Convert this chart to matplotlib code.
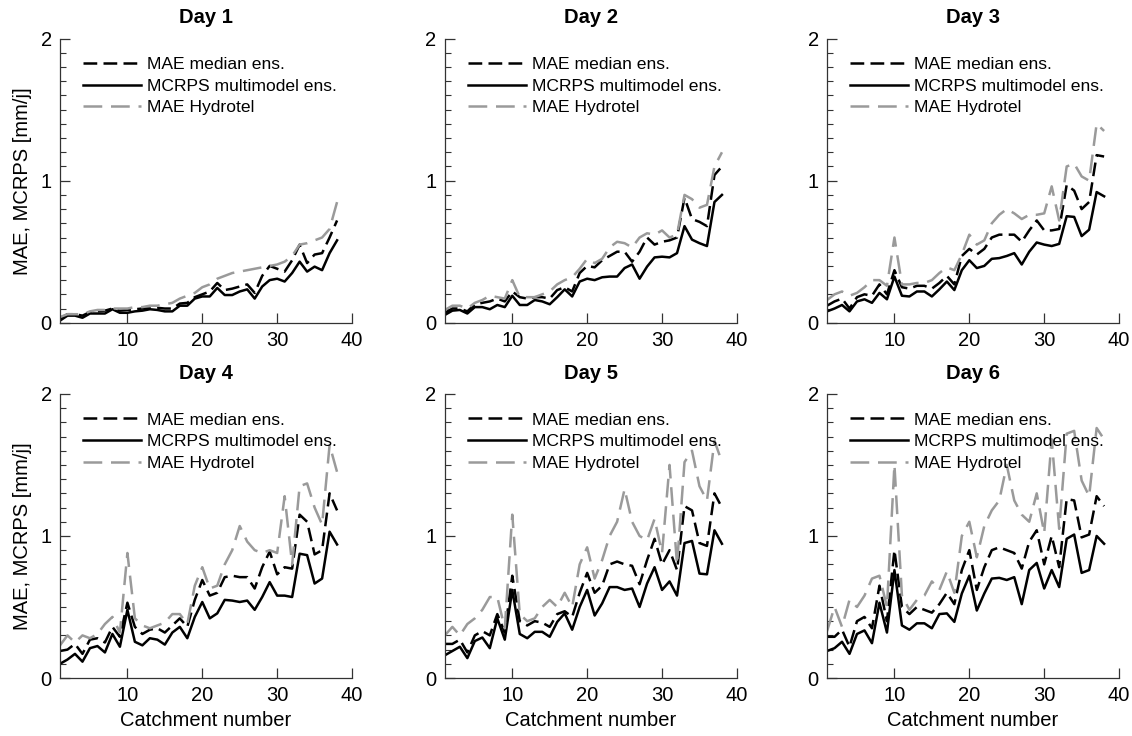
import numpy as np
import matplotlib.pyplot as plt
from matplotlib.ticker import MultipleLocator

plt.rcParams['font.family'] = ['Liberation Sans', 'DejaVu Sans']

catchments = list(range(1, 39))

# Day 1
med_d1 = [0.03, 0.06, 0.06, 0.05, 0.075, 0.08, 0.085, 0.10, 0.085, 0.09, 0.095, 0.10, 0.10, 0.105, 0.10, 0.10, 0.135, 0.14, 0.18,
          0.20, 0.22, 0.28, 0.23, 0.24, 0.255, 0.27, 0.21, 0.33, 0.40, 0.38, 0.36, 0.44, 0.55, 0.42, 0.48, 0.49, 0.60, 0.72]
crps_d1 = [0.015, 0.05, 0.05, 0.035, 0.065, 0.065, 0.065, 0.095, 0.07, 0.07, 0.08, 0.085, 0.095, 0.09, 0.08, 0.08, 0.12, 0.12, 0.17,
           0.185, 0.185, 0.245, 0.195, 0.195, 0.22, 0.235, 0.17, 0.255, 0.30, 0.31, 0.29, 0.35, 0.43, 0.36, 0.395, 0.37, 0.49, 0.58]
hyd_d1 = [0.04, 0.06, 0.06, 0.06, 0.08, 0.09, 0.09, 0.10, 0.10, 0.10, 0.11, 0.11, 0.12, 0.12, 0.13, 0.14, 0.17, 0.19, 0.21,
          0.25, 0.27, 0.31, 0.33, 0.35, 0.36, 0.37, 0.38, 0.39, 0.40, 0.41, 0.43, 0.47, 0.55, 0.56, 0.58, 0.60, 0.66, 0.85]

# Day 2
med_d2 = [0.07, 0.10, 0.10, 0.08, 0.13, 0.14, 0.15, 0.17, 0.15, 0.22, 0.18, 0.17, 0.18, 0.18, 0.17, 0.23, 0.25, 0.22, 0.35,
          0.40, 0.39, 0.44, 0.47, 0.50, 0.50, 0.43, 0.50, 0.60, 0.55, 0.57, 0.58, 0.60, 0.88, 0.73, 0.71, 0.68, 1.04, 1.10]
crps_d2 = [0.055, 0.085, 0.09, 0.065, 0.11, 0.11, 0.095, 0.125, 0.11, 0.19, 0.125, 0.125, 0.16, 0.15, 0.13, 0.18, 0.235, 0.185, 0.29,
           0.31, 0.30, 0.32, 0.325, 0.325, 0.385, 0.41, 0.31, 0.395, 0.46, 0.465, 0.46, 0.49, 0.68, 0.585, 0.56, 0.54, 0.85, 0.90]
hyd_d2 = [0.09, 0.12, 0.12, 0.10, 0.14, 0.16, 0.19, 0.18, 0.17, 0.30, 0.18, 0.18, 0.18, 0.20, 0.22, 0.27, 0.30, 0.32, 0.38,
          0.45, 0.42, 0.45, 0.53, 0.57, 0.56, 0.53, 0.60, 0.63, 0.62, 0.65, 0.60, 0.62, 0.90, 0.87, 0.81, 0.83, 1.10, 1.20]

# Day 3
med_d3 = [0.12, 0.15, 0.17, 0.10, 0.18, 0.20, 0.19, 0.27, 0.20, 0.37, 0.25, 0.24, 0.26, 0.26, 0.24, 0.28, 0.33, 0.27, 0.47,
          0.52, 0.48, 0.52, 0.60, 0.62, 0.62, 0.62, 0.57, 0.65, 0.72, 0.65, 0.65, 0.66, 0.97, 0.93, 0.80, 0.85, 1.18, 1.17]
crps_d3 = [0.08, 0.10, 0.125, 0.08, 0.15, 0.165, 0.14, 0.21, 0.165, 0.325, 0.19, 0.185, 0.22, 0.22, 0.185, 0.235, 0.29, 0.23, 0.37,
           0.44, 0.385, 0.40, 0.45, 0.455, 0.47, 0.49, 0.41, 0.50, 0.565, 0.55, 0.54, 0.555, 0.75, 0.745, 0.61, 0.655, 0.92, 0.89]
hyd_d3 = [0.16, 0.20, 0.22, 0.19, 0.21, 0.25, 0.30, 0.30, 0.26, 0.60, 0.27, 0.27, 0.28, 0.28, 0.30, 0.35, 0.39, 0.37, 0.48,
          0.62, 0.55, 0.58, 0.70, 0.76, 0.80, 0.77, 0.73, 0.76, 0.76, 0.77, 0.96, 0.72, 1.10, 1.12, 1.03, 1.00, 1.40, 1.35]

# Day 4
med_d4 = [0.19, 0.20, 0.24, 0.17, 0.27, 0.28, 0.25, 0.36, 0.29, 0.53, 0.36, 0.31, 0.34, 0.35, 0.32, 0.37, 0.42, 0.36, 0.55,
          0.69, 0.58, 0.60, 0.71, 0.72, 0.71, 0.71, 0.63, 0.78, 0.89, 0.73, 0.78, 0.77, 1.15, 1.10, 0.87, 0.90, 1.30, 1.18]
crps_d4 = [0.10, 0.13, 0.17, 0.115, 0.21, 0.225, 0.18, 0.31, 0.22, 0.48, 0.255, 0.23, 0.28, 0.27, 0.235, 0.32, 0.36, 0.28, 0.43,
           0.535, 0.42, 0.455, 0.55, 0.545, 0.535, 0.545, 0.48, 0.57, 0.675, 0.58, 0.58, 0.57, 0.875, 0.865, 0.665, 0.70, 1.03, 0.94]
hyd_d4 = [0.23, 0.30, 0.25, 0.30, 0.28, 0.31, 0.38, 0.43, 0.32, 0.88, 0.42, 0.37, 0.35, 0.37, 0.39, 0.45, 0.45, 0.38, 0.65,
          0.78, 0.63, 0.65, 0.80, 0.90, 1.07, 0.96, 0.90, 0.88, 0.90, 0.88, 1.28, 0.80, 1.35, 1.37, 1.20, 1.08, 1.64, 1.45]

# Day 5
med_d5 = [0.24, 0.24, 0.27, 0.18, 0.30, 0.33, 0.30, 0.45, 0.32, 0.72, 0.40, 0.37, 0.40, 0.39, 0.36, 0.45, 0.47, 0.43, 0.60,
          0.74, 0.60, 0.65, 0.80, 0.82, 0.80, 0.79, 0.66, 0.83, 0.98, 0.80, 0.90, 0.76, 1.21, 1.18, 0.95, 0.93, 1.30, 1.20]
crps_d5 = [0.16, 0.19, 0.22, 0.14, 0.26, 0.285, 0.21, 0.42, 0.27, 0.62, 0.31, 0.28, 0.325, 0.325, 0.29, 0.395, 0.455, 0.34, 0.50,
           0.62, 0.44, 0.525, 0.64, 0.64, 0.62, 0.63, 0.50, 0.665, 0.78, 0.62, 0.68, 0.58, 0.95, 0.965, 0.735, 0.73, 1.04, 0.945]
hyd_d5 = [0.30, 0.36, 0.30, 0.38, 0.42, 0.48, 0.57, 0.57, 0.35, 1.15, 0.45, 0.40, 0.42, 0.50, 0.55, 0.50, 0.60, 0.50, 0.80,
          0.92, 0.70, 0.83, 1.00, 1.10, 1.33, 1.10, 1.00, 0.97, 1.12, 0.88, 1.50, 0.80, 1.52, 1.60, 1.35, 1.25, 1.67, 1.52]

# Day 6
med_d6 = [0.29, 0.29, 0.34, 0.22, 0.40, 0.43, 0.35, 0.65, 0.40, 0.90, 0.50, 0.45, 0.50, 0.48, 0.46, 0.52, 0.60, 0.52, 0.76,
          0.90, 0.62, 0.78, 0.90, 0.92, 0.90, 0.88, 0.77, 0.96, 1.04, 0.80, 1.00, 0.78, 1.26, 1.25, 0.99, 1.01, 1.28, 1.21]
crps_d6 = [0.19, 0.21, 0.255, 0.17, 0.31, 0.335, 0.245, 0.53, 0.32, 0.76, 0.37, 0.34, 0.385, 0.385, 0.35, 0.45, 0.455, 0.395, 0.595,
           0.72, 0.475, 0.595, 0.70, 0.705, 0.69, 0.71, 0.52, 0.76, 0.81, 0.63, 0.76, 0.64, 0.98, 1.01, 0.74, 0.76, 1.00, 0.945]
hyd_d6 = [0.33, 0.50, 0.36, 0.55, 0.50, 0.58, 0.70, 0.72, 0.50, 1.50, 0.58, 0.48, 0.55, 0.58, 0.68, 0.62, 0.75, 0.60, 1.00,
          1.10, 0.85, 1.07, 1.18, 1.25, 1.50, 1.25, 1.15, 1.10, 1.30, 1.02, 1.68, 1.05, 1.72, 1.74, 1.39, 1.28, 1.76, 1.68]

days = ['Day 1', 'Day 2', 'Day 3', 'Day 4', 'Day 5', 'Day 6']
med_all = [med_d1, med_d2, med_d3, med_d4, med_d5, med_d6]
crps_all = [crps_d1, crps_d2, crps_d3, crps_d4, crps_d5, crps_d6]
hyd_all = [hyd_d1, hyd_d2, hyd_d3, hyd_d4, hyd_d5, hyd_d6]

fig = plt.figure(figsize=(11.32, 7.36), dpi=100)

lefts = [0.053, 0.393, 0.7306]
bottoms = [0.5615, 0.0788]
w, h = 0.258, 0.386
spine_col = '#333333'

for i in range(6):
    r, c = divmod(i, 3)
    ax = fig.add_axes([lefts[c], bottoms[r], w, h])
    ax.plot(catchments, med_all[i], color='black', lw=1.8, dashes=(5.5, 2.5), label='MAE median ens.')
    ax.plot(catchments, crps_all[i], color='black', lw=1.8, label='MCRPS multimodel ens.')
    ax.plot(catchments, hyd_all[i], color='#9a9a9a', lw=1.8, dashes=(7.5, 3.5), label='MAE Hydrotel')

    ax.set_xlim(1, 40)
    ax.set_ylim(0, 2)
    ax.set_xticks([10, 20, 30, 40])
    ax.set_yticks([0, 1, 2])
    ax.yaxis.set_minor_locator(MultipleLocator(0.1))
    for s in ['top', 'right']:
        ax.spines[s].set_visible(False)
    for s in ['left', 'bottom']:
        ax.spines[s].set_color(spine_col)
        ax.spines[s].set_linewidth(0.9)
    ax.tick_params(which='major', direction='in', length=7, width=0.9, color=spine_col,
                   labelsize=14.5, pad=6)
    ax.tick_params(which='minor', direction='in', length=4.5, width=0.8, color=spine_col)
    ax.set_title(days[i], fontsize=14.5, fontweight='bold', pad=11)
    if c == 0:
        ax.set_ylabel('MAE, MCRPS [mm/j]', fontsize=14.5, labelpad=6)
    if r == 1:
        ax.set_xlabel('Catchment number', fontsize=14.5, labelpad=4)
    ax.legend(loc='upper left', bbox_to_anchor=(0.08, 0.935), frameon=False, fontsize=12.6,
              borderpad=0, borderaxespad=0, handlelength=3.3, handletextpad=0.35,
              labelspacing=0.36)

fig.savefig('out.png', dpi=100)
